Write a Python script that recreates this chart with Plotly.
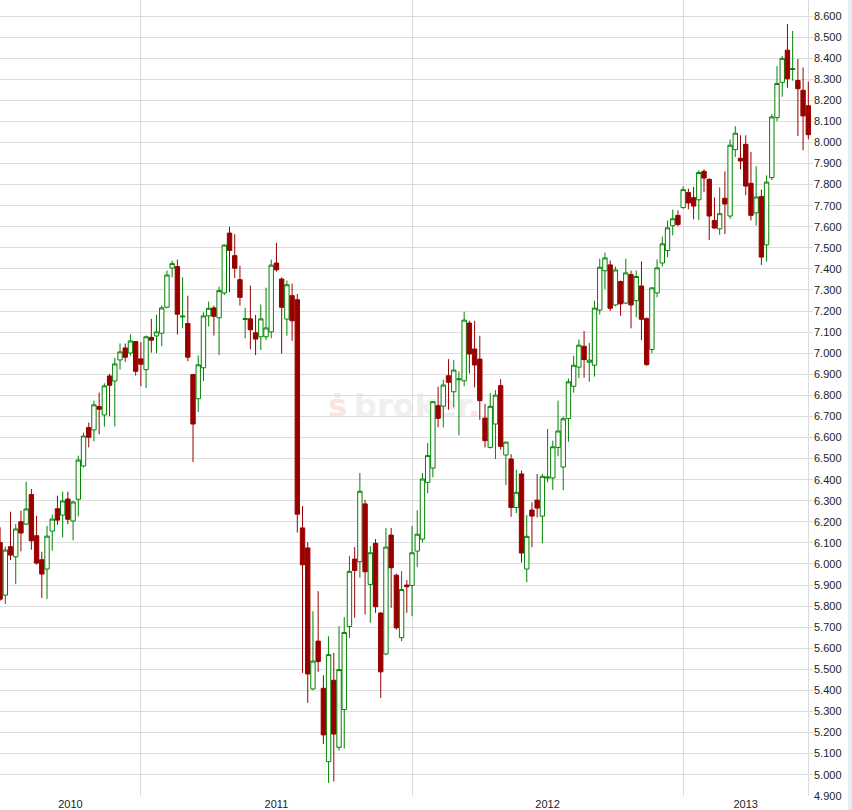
import base64
import pandas as pd
import plotly.graph_objects as go

# ---------------- data (weekly candles) ----------------
week_start = "2010-06-28"

opens = [6102, 5852, 6082, 6034, 6200, 6189, 6329, 6134, 6020, 5976,
         6156, 6262, 6232, 6308, 6204, 6307, 6465, 6647, 6636, 6747,
         6707, 6892, 6868, 6968, 7025, 7001, 7055, 6973, 6922, 7075,
         7082, 7095, 7218, 7404, 7411, 7172, 7141, 6899, 6784, 6931,
         7177, 7215, 7168, 7286, 7570, 7463, 7349, 7160, 7163, 7097,
         7078, 7078, 7101, 7428, 7352, 7162, 7273, 7254, 6171, 6076,
         5407, 5634, 5410, 5062, 5448, 5130, 5309, 5703, 6023, 6011,
         6285, 5903, 6098, 5767, 5573, 6137, 5947, 5650, 5900, 5898,
         6061, 6118, 6387, 6455, 6751, 6749, 6893, 6817, 6874, 6869,
         7143, 7020, 6972, 6692, 6553, 6664, 6846, 6517, 6498, 6268,
         6427, 5976, 6256, 6303, 6227, 6408, 6408, 6553, 6460, 6690,
         6843, 6934, 7033, 6957, 6943, 7205, 7391, 7419, 7229, 7340,
         7238, 7373, 7249, 7319, 7164, 7018, 7286, 7428, 7487, 7605,
         7654, 7691, 7762, 7738, 7728, 7863, 7825, 7630, 7590, 7735,
         7651, 7966, 7925, 7991, 7806, 7666, 7744, 7514, 7833, 8118,
         8285, 8438, 8346, 8294, 8248, 8174]

highs = [6174, 6082, 6248, 6189, 6253, 6390, 6356, 6229, 6058, 6181,
         6234, 6324, 6343, 6343, 6299, 6514, 6623, 6671, 6775, 6813,
         6857, 6902, 6978, 7046, 7046, 7089, 7057, 7052, 7084, 7163,
         7182, 7226, 7392, 7439, 7444, 7360, 7273, 6902, 6989, 7194,
         7245, 7226, 7316, 7516, 7600, 7565, 7415, 7215, 7321, 7182,
         7231, 7311, 7444, 7524, 7360, 7345, 7330, 7281, 6275, 6104,
         5776, 5871, 5472, 5657, 5578, 5705, 5748, 6038, 6080, 6432,
         6304, 6085, 6118, 5772, 6171, 6171, 5954, 5966, 5924, 6180,
         6255, 6431, 6574, 6772, 6841, 6874, 6972, 6967, 6914, 7197,
         7154, 7154, 7083, 6759, 6811, 6825, 6877, 6580, 6521, 6447,
         6443, 6232, 6292, 6427, 6427, 6640, 6585, 6775, 6700, 6880,
         6988, 7065, 7105, 7049, 7249, 7448, 7478, 7440, 7411, 7345,
         7448, 7392, 7392, 7435, 7170, 7312, 7445, 7554, 7630, 7681,
         7678, 7792, 7781, 7789, 7868, 7873, 7830, 7739, 7787, 7863,
         8014, 8077, 8034, 8034, 7955, 7887, 7776, 7844, 8134, 8362,
         8410, 8562, 8529, 8396, 8356, 8288]

lows = [5825, 5810, 6018, 5904, 6060, 6186, 6068, 5997, 5838, 5833,
        6063, 6185, 6126, 6189, 6112, 6226, 6458, 6553, 6582, 6615,
        6652, 6701, 6653, 6922, 6960, 6989, 6894, 6843, 6835, 7003,
        7000, 7033, 7213, 7360, 7089, 7119, 6962, 6484, 6721, 6868,
        7127, 7084, 6991, 7275, 7289, 7357, 7226, 7071, 7019, 6991,
        7015, 7062, 7071, 7387, 6997, 7083, 7059, 6149, 5483, 5341,
        5401, 5488, 5146, 4961, 4968, 5114, 5124, 5649, 5745, 5935,
        5760, 5721, 5768, 5364, 5567, 5792, 5689, 5634, 5768, 5752,
        5985, 6102, 6335, 6411, 6648, 6648, 6732, 6743, 6610, 6843,
        6904, 6838, 6684, 6553, 6548, 6498, 6542, 6374, 6224, 6241,
        6007, 5913, 6079, 6221, 6098, 6387, 6351, 6510, 6350, 6580,
        6813, 6881, 6884, 6865, 6889, 7183, 7305, 7200, 7222, 7178,
        7233, 7118, 7170, 7062, 6940, 7000, 7265, 7411, 7456, 7559,
        7602, 7685, 7683, 7635, 7632, 7765, 7537, 7590, 7562, 7565,
        7638, 7931, 7872, 7749, 7630, 7606, 7419, 7435, 7822, 8101,
        8217, 8259, 8293, 8031, 7963, 8015]

closes = [5833, 6066, 6042, 6166, 6147, 6261, 6110, 6004, 5952, 6132,
          6213, 6208, 6299, 6212, 6294, 6493, 6607, 6601, 6755, 6734,
          6845, 6848, 6949, 7006, 6981, 7058, 6914, 6948, 7078, 7062,
          7101, 7215, 7371, 7425, 7185, 7176, 6981, 6664, 6945, 7177,
          7213, 7175, 7297, 7513, 7488, 7403, 7265, 7164, 7111, 7067,
          7163, 7120, 7418, 7396, 7218, 7325, 7154, 6236, 5996, 5478,
          5539, 5537, 5189, 5570, 5193, 5499, 5675, 5965, 5969, 6345,
          5963, 6053, 5797, 5488, 6080, 5982, 5697, 5879, 5892, 6053,
          6141, 6403, 6514, 6770, 6691, 6849, 6862, 6920, 6878, 7157,
          6996, 6944, 6775, 6585, 6748, 6801, 6558, 6578, 6268, 6340,
          6052, 6131, 6227, 6265, 6416, 6412, 6556, 6631, 6689, 6864,
          6943, 7038, 6970, 6967, 7214, 7408, 7452, 7213, 7395, 7234,
          7381, 7229, 7364, 7161, 6946, 7310, 7405, 7519, 7595, 7638,
          7611, 7776, 7713, 7698, 7857, 7831, 7651, 7594, 7662, 7708,
          7987, 8044, 7912, 7793, 7654, 7741, 7456, 7812, 8121, 8280,
          8399, 8302, 8350, 8255, 8126, 8037]

y_tick_values = list(range(4900, 8601, 100))
y_tick_labels = [f"{v:,}".replace(",", ".") for v in y_tick_values]
dates = pd.date_range(week_start, periods=len(opens), freq="7D")

# ---------------- layout geometry ----------------
W, H = 852, 810
ML, MR, MT, MB = 0, 39, 0, 14
plot_w = W - ML - MR
plot_h = H - MT - MB

x_start = dates[0] - pd.Timedelta(hours=3)
x_end = dates[-1] + pd.Timedelta(days=6.3)

# a week belongs to the year of its Friday
week_year = (dates + pd.Timedelta(days=4)).year
years = sorted(set(week_year))
year_firsts = [dates[week_year == y][0] for y in years[1:]]
bounds = [x_start] + year_firsts + [dates[-1]]
year_mids = [bounds[i] + (bounds[i + 1] - bounds[i]) / 2 for i in range(len(bounds) - 1)]

GRID = "#dcdcdc"
FONT = "Liberation Sans, Arial, sans-serif"

fig = go.Figure()
fig.add_trace(go.Candlestick(
    x=dates, open=opens, high=highs, low=lows, close=closes,
    increasing=dict(line=dict(color="#008400", width=1), fillcolor="#ffffff"),
    decreasing=dict(line=dict(color="#990000", width=1), fillcolor="#990000"),
    whiskerwidth=0, showlegend=False, hoverinfo="skip",
))

# faint watermark, drawn beneath everything
svg = (
    '<svg xmlns="http://www.w3.org/2000/svg" width="160" height="40">'
    '<text x="0" y="28" font-family="DejaVu Sans" font-weight="bold" font-size="32">'
    '<tspan fill="#fbe3e3">\u1e61</tspan>'
    '<tspan fill="#efefef" dx="7">broker</tspan>'
    '<tspan fill="#fbe3e3">.</tspan></text></svg>'
)
src = "data:image/svg+xml;base64," + base64.b64encode(svg.encode("utf-8")).decode()
fig.add_layout_image(dict(
    source=src, xref="paper", yref="paper",
    x=328 / plot_w, y=1 - 389 / plot_h,
    sizex=160 / plot_w, sizey=40 / plot_h,
    xanchor="left", yanchor="top", sizing="stretch", layer="below",
))

# thin light-blue strip at the far right edge
fig.add_shape(type="rect", xref="paper", yref="paper",
              x0=848 / plot_w, x1=853 / plot_w, y0=-MB / plot_h, y1=1.0,
              fillcolor="#e4ecf4", line=dict(width=0), layer="below")

fig.update_layout(
    template="none",
    width=W, height=H,
    margin=dict(l=ML, r=MR, t=MT, b=MB, pad=0),
    paper_bgcolor="#ffffff", plot_bgcolor="#ffffff",
    boxgap=0.0, boxgroupgap=0.16,
    hovermode=False,
    showlegend=False,
    font=dict(family=FONT, size=11, color="#222222"),
    xaxis=dict(
        type="date",
        range=[x_start, x_end],
        rangeslider=dict(visible=False),
        tickmode="array", tickvals=year_mids, ticktext=[str(y) for y in years],
        showgrid=False, zeroline=False, showline=False, ticks="",
        tickfont=dict(family=FONT, size=11, color="#222222"),
        automargin=False,
        minor=dict(tickmode="array", tickvals=year_firsts + [dates[-1]],
                   showgrid=True, gridcolor=GRID, gridwidth=1, ticks=""),
    ),
    yaxis=dict(
        side="right",
        range=[4899, 8600 + 16 * (8600 - 4899) / (796 - 16)],
        tickmode="array", tickvals=y_tick_values, ticktext=y_tick_labels,
        showgrid=True, gridcolor=GRID, gridwidth=1,
        zeroline=False, showline=False, ticks="",
        tickfont=dict(family=FONT, size=11, color="#222222"),
        automargin=False,
    ),
)

fig.write_html(
    "out.html",
    config={"displayModeBar": False, "staticPlot": True},
    post_script="document.body.style.margin='0';document.body.style.padding='0';",
)
